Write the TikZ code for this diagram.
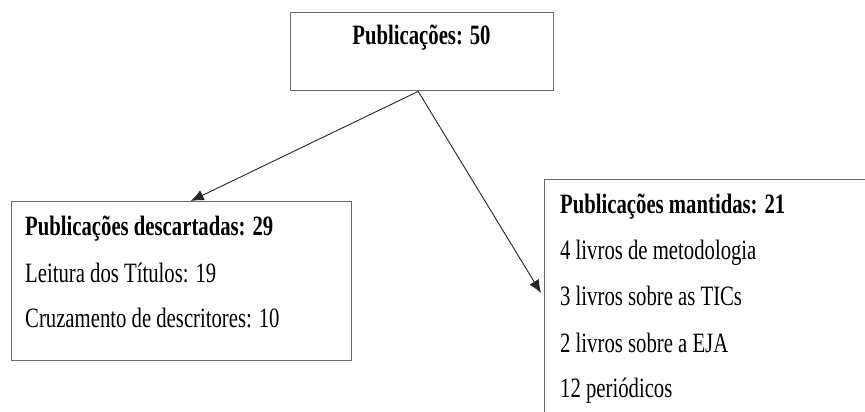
\documentclass[tikz,border=0pt]{standalone}
\usepackage{fontspec}
\setmainfont{Liberation Serif}[FakeStretch=0.74]
\usetikzlibrary{arrows.meta}
\tikzset{
  box/.style={draw=black!58, line width=1.4pt, anchor=north west, inner sep=0pt},
  txt/.style={anchor=base west, inner sep=0pt, font=\fontsize{28}{34}\selectfont},
  ttl/.style={txt, font=\fontsize{28}{34}\selectfont\bfseries},
  arr/.style={draw=black!85, line width=0.9pt, -{Latex[length=13pt,width=11pt]}}
}
\begin{document}
\begin{tikzpicture}[x=1pt,y=-1pt]
\clip (0,0) rectangle (865,412);
\fill[white] (0,0) rectangle (865,412);
\node[box, minimum width=263pt, minimum height=78pt] (top) at (290,12) {};
\node[box, minimum width=340pt, minimum height=159pt] (left) at (11,201) {};
\node[box, minimum width=340pt, minimum height=260pt] (right) at (544,179) {};
\node[ttl, anchor=base] (t0) at (421.5,45) {Publicações: 50};
\node[ttl] (l1) at (25,235) {Publicações descartadas: 29};
\node[txt] (l2) at (25,282) {Leitura dos Títulos: 19};
\node[txt] (l3) at (25,327) {Cruzamento de descritores: 10};
\node[ttl] (r1) at (560,213) {Publicações mantidas: 21};
\node[txt] (r2) at (560,259) {4 livros de metodologia};
\node[txt] (r3) at (560,305) {3 livros sobre as TICs};
\node[txt] (r4) at (560,352) {2 livros sobre a EJA};
\node[txt] (r5) at (560,397) {12 periódicos};
\draw[arr] ([xshift=-4pt]top.south) -- ([xshift=9pt]left.north);
\draw[arr] ([xshift=-4pt]top.south) -- ([xshift=-3pt,yshift=-114pt]right.north west);
\end{tikzpicture}
\end{document}
